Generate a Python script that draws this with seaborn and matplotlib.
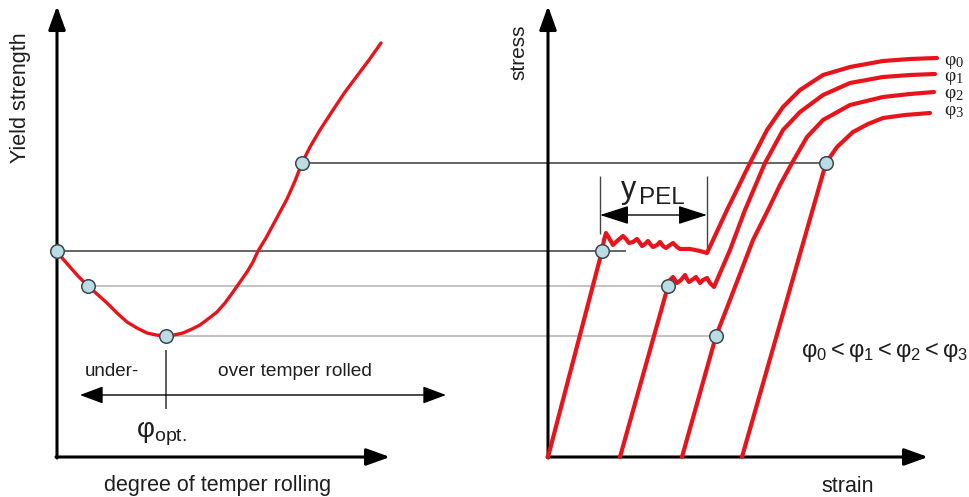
import numpy as np
import pandas as pd
import matplotlib
matplotlib.use("Agg")
import matplotlib.pyplot as plt
import seaborn as sns

# ---------------- data (schematic, in picture units: x right, y down) ----------------
# Left panel: yield strength vs degree of temper rolling
ys_x = [57, 63, 70, 78, 87, 97, 107, 117, 127, 137, 147, 156, 165, 174, 183, 192, 200,
        208, 217, 225, 233, 240, 247, 253, 258, 266, 273, 280, 287, 295, 302, 310, 320,
        333, 345, 357, 369, 381]
ys_y = [251, 259, 267, 276, 285, 294, 303, 313, 322, 328, 333, 335, 336, 335, 333, 329, 325,
        319, 312, 303, 292, 282, 272, 262, 251, 238, 225, 212, 199, 181, 163, 147, 130,
        110, 92, 76, 60, 43]
ys_pts_x = [57, 88, 166, 302]
ys_pts_y = [251, 286, 336, 163]

# Right panel: stress-strain curves phi0..phi3
phi0_x = [548, 602, 604, 606, 609, 613, 617, 623, 626, 629, 633, 637, 640, 642, 645, 648,
          651, 653, 657, 660, 663, 666, 670, 673, 677, 680, 685, 690, 700, 707,
          727, 750, 767, 783, 800, 823, 850, 883, 910, 937]
phi0_y = [457, 251, 240, 233, 238, 245, 241, 236, 239, 243, 242, 239, 243, 246, 244, 241,
          245, 247, 245, 242, 246, 248, 245, 243, 247, 249, 249, 249, 251, 253,
          210, 163, 130, 107, 90, 75, 67, 61, 59, 58]
phi1_x = [620, 668, 670, 673, 675, 677, 681, 685, 687, 689, 692, 696, 698, 700, 703, 707,
          710, 714, 730, 745, 765, 783, 800, 823, 850, 883, 910, 935]
phi1_y = [457, 286, 280, 277, 280, 283, 280, 275, 279, 282, 280, 277, 280, 283, 280, 278,
          283, 287, 250, 210, 163, 130, 112, 95, 83, 77, 75, 74]
phi2_x = [682, 716, 730, 753, 768, 780, 792, 807, 823, 850, 883, 910, 934]
phi2_y = [457, 336, 300, 240, 210, 185, 163, 137, 120, 105, 97, 94, 92]
phi3_x = [742, 826, 837, 853, 868, 883, 905, 930]
phi3_y = [457, 163, 147, 132, 124, 118, 115, 113]
ss_pts_x = [602, 668, 716, 826]
ss_pts_y = [251, 286, 336, 163]

# connecting levels: (y, x_start, x_end, dark?)
level_y = [163, 251, 286, 336]
level_x0 = [302, 57, 88, 166]
level_x1 = [826, 626, 668, 716]
level_dark = [True, True, False, False]

phi_subs = ["0", "1", "2", "3"]
phi_label_base = [65, 81, 98, 115]

# ---------------- styling ----------------
sns.set_theme(style="white")
plt.rcParams["font.family"] = ["Liberation Sans", "DejaVu Sans"]
plt.rcParams["mathtext.fontset"] = "custom"
plt.rcParams["mathtext.rm"] = "Liberation Sans"
plt.rcParams["mathtext.it"] = "Liberation Sans"
plt.rcParams["mathtext.default"] = "regular"

RED = "#e8141b"
TXT = "#1e1e1e"
fig = plt.figure(figsize=(9.69, 4.97), dpi=100)
ax = fig.add_axes([0, 0, 1, 1])
ax.set_xlim(0, 969)
ax.set_ylim(497, 0)
ax.axis("off")


def arrow(x0, y0, x1, y1, lw=2.2, hl=0.72, hw=0.26, ms=20, both=False):
    style = ("<|-|>" if both else "-|>") + f",head_length={hl},head_width={hw}"
    ax.annotate("", xy=(x1, y1), xytext=(x0, y0),
                arrowprops=dict(arrowstyle=style, lw=lw, color="black",
                                shrinkA=0, shrinkB=0, mutation_scale=ms))


# axes arrows
arrow(57, 458, 57, 6)
arrow(56, 457, 390, 457)
arrow(548, 458, 548, 6)
arrow(547, 457, 928, 457)

# connecting horizontal lines
for y, x0, x1, dk in zip(level_y, level_x0, level_x1, level_dark):
    ax.hlines(y, x0, x1, color="#3a3a3a" if dk else "#bdbdbd",
              lw=1.1 if dk else 1.3, zorder=2)

# curves
sns.lineplot(x=ys_x, y=ys_y, sort=False, estimator=None, color=RED, lw=2.4, ax=ax, zorder=3)
for cx, cy in [(phi0_x, phi0_y), (phi1_x, phi1_y), (phi2_x, phi2_y), (phi3_x, phi3_y)]:
    sns.lineplot(x=cx, y=cy, sort=False, estimator=None, color=RED, lw=3.0, ax=ax, zorder=3)
for ln in ax.lines:
    ln.set_solid_joinstyle("round")
    ln.set_solid_capstyle("round")

# circle markers
sns.scatterplot(x=ys_pts_x + ss_pts_x, y=ys_pts_y + ss_pts_y, s=95, color="#b9dde2",
                edgecolor="#3c4650", linewidth=1.1, ax=ax, zorder=5)

# phi_opt marker and under/over arrow
ax.vlines(166, 350, 409, color="#333333", lw=1.1)
arrow(80, 395, 446, 395, lw=1.0, hl=0.8, hw=0.3, ms=18, both=True)
ax.text(85, 380, "under-", fontsize=13.5, color=TXT, va="bottom", ha="left")
ax.text(218, 380, "over temper rolled", fontsize=13.8, color=TXT, va="bottom", ha="left")
ax.text(136, 438, r"$\varphi_{opt.}$", fontsize=20, color=TXT, va="baseline", ha="left")

# yPEL annotation
ax.vlines(600, 176, 234, color="#444444", lw=1.0)
ax.vlines(707, 176, 252, color="#444444", lw=1.0)
arrow(600, 215, 707, 215, lw=1.0, hl=1.0, hw=0.32, ms=18, both=True)
ax.text(621, 198, "y", fontsize=22, color=TXT, va="baseline", ha="left")
ax.text(639, 204, "PEL", fontsize=17.5, color=TXT, va="baseline", ha="left")

# phi labels on curves (serif)
for sub, yb in zip(phi_subs, phi_label_base):
    ax.text(944, yb, "φ", fontsize=14, color=TXT, va="baseline", ha="left",
            family=["Liberation Serif", "DejaVu Serif"])
    ax.text(955.5, yb + 2, sub, fontsize=10.5, color=TXT, va="baseline", ha="left",
            family=["Liberation Serif", "DejaVu Serif"])

ax.text(801, 352, r"$\varphi_0 < \varphi_1 < \varphi_2 < \varphi_3$", fontsize=17,
        color=TXT, va="center", ha="left")

# axis titles
ax.text(21, 98, "Yield strength", rotation=90, fontsize=15.5, color=TXT,
        va="center", ha="center")
ax.text(218, 485, "degree of temper rolling", fontsize=15.5, color=TXT,
        va="center", ha="center")
ax.text(519, 52, "stress", rotation=90, fontsize=15, color=TXT,
        va="center", ha="center")
ax.text(848, 487, "strain", fontsize=15.5, color=TXT, va="center", ha="center")

fig.savefig("out.png", dpi=100)
